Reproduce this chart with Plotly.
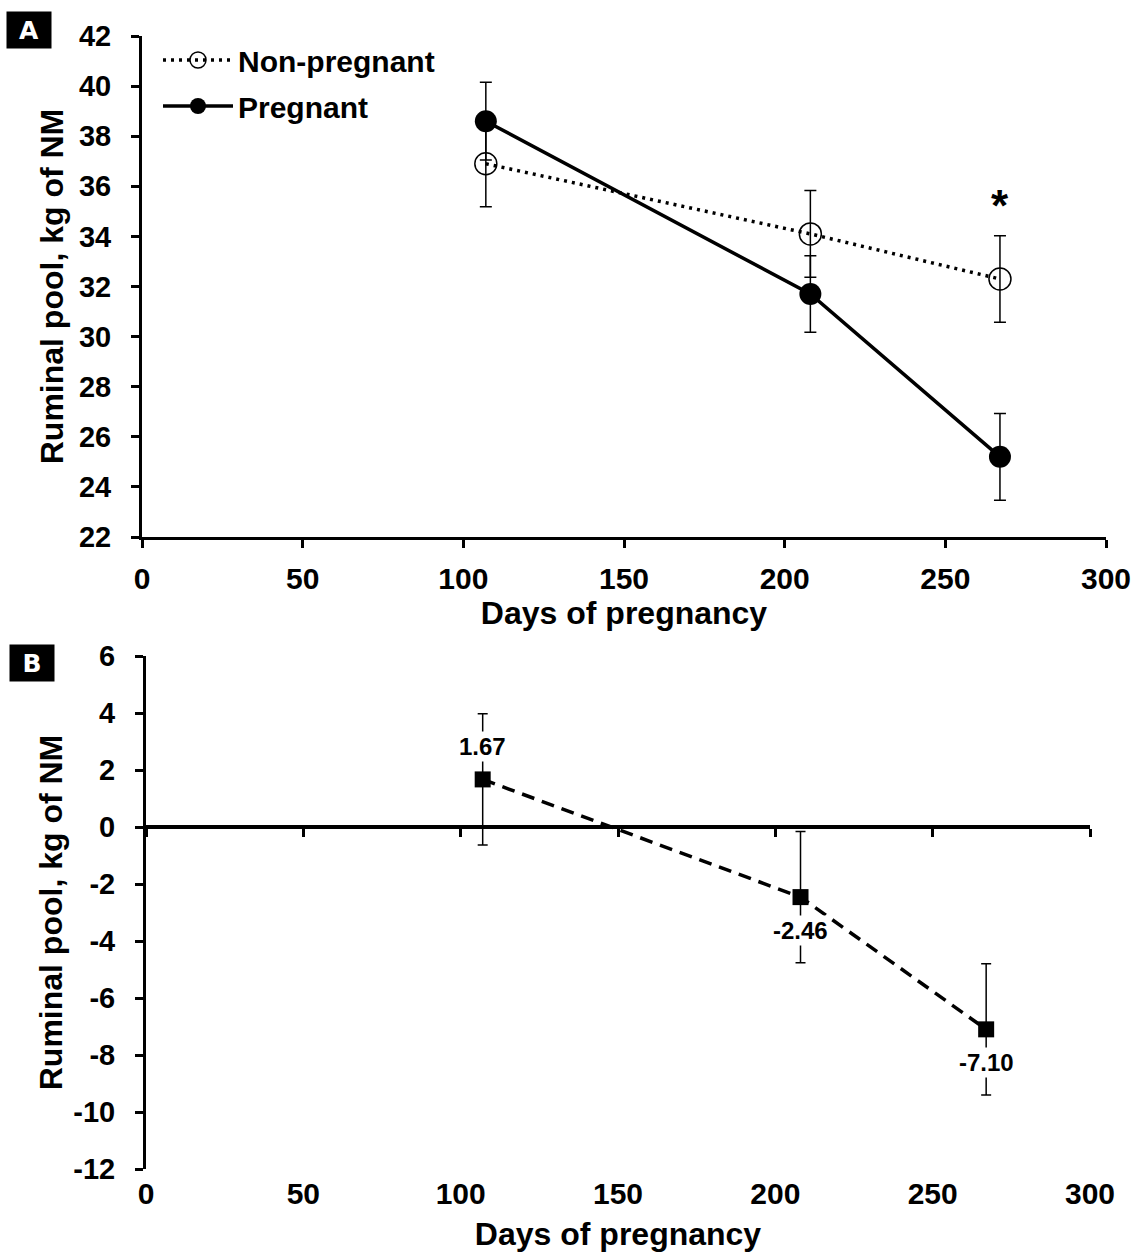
import plotly.graph_objects as go

# ---------------- data ----------------
days = [107, 208, 267]
nonpreg = [36.9, 34.1, 32.3]
nonpreg_se = [1.72, 1.73, 1.73]
preg = [38.6, 31.7, 25.2]
preg_se = [1.55, 1.53, 1.73]
diff = [1.67, -2.46, -7.10]
diff_se = [2.3, 2.3, 2.3]
diff_labels = ["1.67", "-2.46", "-7.10"]
sig_index = 2  # significant difference marker at this day

x_ticks = [0, 50, 100, 150, 200, 250, 300]
ya_ticks = [22, 24, 26, 28, 30, 32, 34, 36, 38, 40, 42]
yb_ticks = [-12, -10, -8, -6, -4, -2, 0, 2, 4, 6]

# ---------------- layout geometry ----------------
W, H = 1137, 1256
ML, MR, MT, MB = 142, 31, 36, 87
PW, PH = W - ML - MR, H - MT - MB


def px_x(p):
    return (p - ML) / PW


def px_y(p):
    return (H - MB - p) / PH


FONT = "Liberation Sans, Arial, sans-serif"
dom_a = [px_y(537), 1.0]
dom_b = [0.0, px_y(656)]
xdom_b = [px_x(146), px_x(1090)]
zero_pos = dom_b[0] + (0 - yb_ticks[0]) / (yb_ticks[-1] - yb_ticks[0]) * (dom_b[1] - dom_b[0])

fig = go.Figure()

err_style = dict(type="data", color="black", thickness=1.5, width=6)

fig.add_trace(go.Scatter(
    x=days, y=nonpreg, name="Non-pregnant", mode="lines+markers",
    line=dict(color="black", width=3.5, dash="3px,5px"),
    marker=dict(symbol="circle-open", size=22, color="black", line=dict(width=1.5, color="black")),
    error_y=dict(array=nonpreg_se, **err_style),
    legendgroup="np", xaxis="x", yaxis="y",
))
fig.add_trace(go.Scatter(
    x=days, y=preg, name="Pregnant", mode="lines+markers",
    line=dict(color="black", width=3.5),
    marker=dict(symbol="circle", size=22, color="black"),
    error_y=dict(array=preg_se, **err_style),
    legendgroup="p", xaxis="x", yaxis="y",
))
# panel B: dashed connecting line on the bottom-label axis
fig.add_trace(go.Scatter(
    x=days, y=diff, name="Difference line", mode="lines", showlegend=False,
    line=dict(color="black", width=3.5, dash="13px,8px"),
    xaxis="x2", yaxis="y2", hoverinfo="skip",
))
# panel B: markers + error bars on the zero-line axis (drawn on top)
fig.add_trace(go.Scatter(
    x=days, y=diff, name="Difference", mode="markers", showlegend=False,
    marker=dict(symbol="square", size=16, color="black"),
    error_y=dict(array=diff_se, type="data", color="black", thickness=1.5, width=5),
    xaxis="x3", yaxis="y2",
))

tickfont_x = dict(family=FONT, size=30, color="black", weight="bold")
tickfont_y = dict(family=FONT, size=29, color="black", weight="bold")
titlefont_x = dict(family=FONT, size=32, color="black", weight="bold")
titlefont_y = dict(family=FONT, size=32, color="black", weight="bold")

common_line = dict(showline=True, linewidth=3, linecolor="black", ticks="outside",
                   ticklen=8, tickwidth=3, tickcolor="black", showgrid=False,
                   zeroline=False, automargin=False)

annotations = []
# panel labels
for lab, cx, cy in [("A", 29, 30), ("B", 32, 663)]:
    annotations.append(dict(
        text=lab, x=px_x(cx), y=px_y(cy), xref="paper", yref="paper",
        showarrow=False, xanchor="center", yanchor="middle",
        font=dict(family="DejaVu Sans, " + FONT, size=25, color="white", weight="bold"),
        bgcolor="black", width=42, height=34,
    ))
# significance star
annotations.append(dict(
    text="*", x=days[sig_index], y=nonpreg[sig_index] + nonpreg_se[sig_index],
    xref="x", yref="y", showarrow=False, yshift=30,
    font=dict(family=FONT, size=44, color="black", weight="bold"),
))
# difference labels
for d, v, t in zip(days, diff, diff_labels):
    annotations.append(dict(
        text=t, x=d, y=v, xref="x2", yref="y2", showarrow=False,
        yshift=33 if v > 0 else -33, bgcolor="white", borderpad=1,
        font=dict(family=FONT, size=24, color="black", weight="bold"),
    ))

x3_style = dict(common_line)
x3_style["linewidth"] = 4

fig.update_layout(
    width=W, height=H,
    margin=dict(l=ML, r=MR, t=MT, b=MB, pad=0),
    paper_bgcolor="white", plot_bgcolor="white",
    font=dict(family=FONT, color="black"),
    showlegend=True,
    legend=dict(x=px_x(158), y=px_y(34), xanchor="left", yanchor="top",
                bgcolor="rgba(0,0,0,0)", tracegroupgap=4, itemwidth=70,
                font=dict(family=FONT, size=30, color="black", weight="bold")),
    xaxis=dict(domain=[0, 1], anchor="y", range=[0, 300], tickvals=x_ticks,
               ticktext=[str(v) for v in x_ticks], tickfont=tickfont_x,
               ticklabelstandoff=5,
               title=dict(text="Days of pregnancy", font=titlefont_x, standoff=4),
               **common_line),
    yaxis=dict(domain=dom_a, anchor="x", range=[22, 42], tickvals=ya_ticks,
               ticktext=[str(v) for v in ya_ticks], tickfont=tickfont_y,
               ticklabelstandoff=14,
               title=dict(text="Ruminal pool, kg of NM", font=titlefont_y, standoff=6),
               **common_line),
    xaxis2=dict(domain=xdom_b, anchor="y2", range=[0, 300], tickvals=x_ticks,
                ticktext=[str(v) for v in x_ticks], tickfont=tickfont_x,
                showline=False, ticks="", showgrid=False, zeroline=False,
                automargin=False, ticklabelstandoff=4,
                title=dict(text="Days of pregnancy", font=titlefont_x, standoff=13)),
    xaxis3=dict(overlaying="x2", matches="x2", anchor="free", position=zero_pos,
                range=[0, 300], tickvals=x_ticks, showticklabels=False,
                **x3_style),
    yaxis2=dict(domain=dom_b, anchor="x2", range=[-12, 6], tickvals=yb_ticks,
                ticktext=[str(v) for v in yb_ticks], tickfont=tickfont_y,
                ticklabelstandoff=14,
                title=dict(text="Ruminal pool, kg of NM", font=titlefont_y, standoff=2),
                **common_line),
    annotations=annotations,
)

fig.write_html("out.html")
